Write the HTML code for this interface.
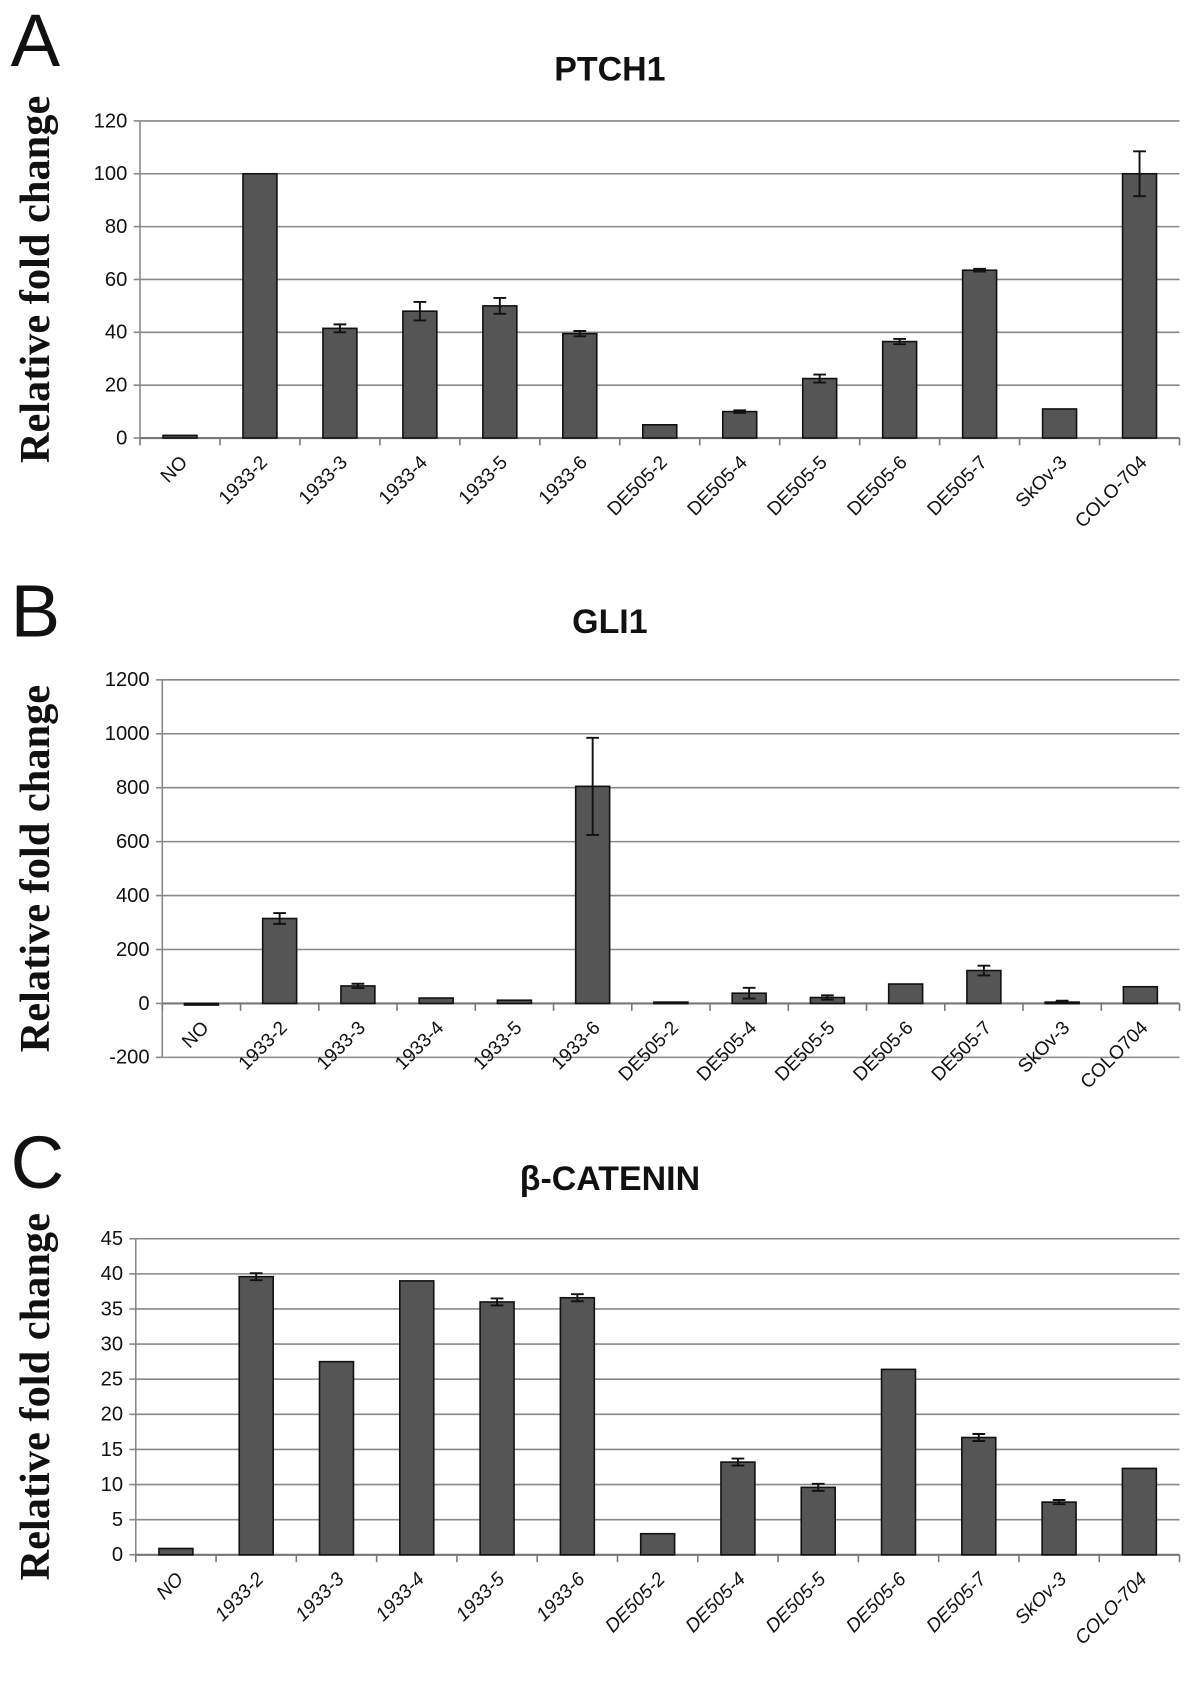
<!DOCTYPE html>
<html><head><meta charset="utf-8"><style>
html,body{margin:0;padding:0;background:#fff}
svg{display:block}
.tick{font-family:"Liberation Sans",sans-serif;font-size:19px;fill:#111}
.cat{font-family:"Liberation Sans",sans-serif;font-size:18px;fill:#111}
.ttl{font-family:"Liberation Sans",sans-serif;font-size:32px;font-weight:bold;fill:#111}
.yt{font-family:"Liberation Serif",serif;font-size:40px;font-weight:bold;fill:#111}
.pl{font-family:"Liberation Sans",sans-serif;font-size:70px;fill:#111}
</style></head><body>
<svg id="fig" width="1188" height="1681" viewBox="0 0 1120 1585" preserveAspectRatio="none" xmlns="http://www.w3.org/2000/svg"></svg>
<script>
const catsA=["NO","1933-2","1933-3","1933-4","1933-5","1933-6","DE505-2","DE505-4","DE505-5","DE505-6","DE505-7","SkOv-3","COLO-704"];
const valsA=[1,100,41.5,48,50,39.5,5,10,22.5,36.5,63.5,11,100];
const errA=[0,0,1.5,3.5,3,1,0,0.5,1.5,1,0.5,0,8.5];
const ticksA=[0,20,40,60,80,100,120];
const catsB=["NO","1933-2","1933-3","1933-4","1933-5","1933-6","DE505-2","DE505-4","DE505-5","DE505-6","DE505-7","SkOv-3","COLO704"];
const valsB=[-3,315,65,20,12,805,5,38,22,72,122,5,62];
const errB=[0,20,8,0,0,180,0,20,8,0,18,5,0];
const ticksB=[-200,0,200,400,600,800,1000,1200];
const catsC=["NO","1933-2","1933-3","1933-4","1933-5","1933-6","DE505-2","DE505-4","DE505-5","DE505-6","DE505-7","SkOv-3","COLO-704"];
const valsC=[0.9,39.6,27.5,39,36,36.6,3,13.2,9.6,26.4,16.7,7.5,12.3];
const errC=[0,0.5,0,0,0.5,0.5,0,0.5,0.5,0,0.5,0.3,0];
const ticksC=[0,5,10,15,20,25,30,35,40,45];

const NS="http://www.w3.org/2000/svg";
const svg=document.getElementById('fig');
function mk(tag,attrs,parent,txt){const e=document.createElementNS(NS,tag);for(const k in attrs)e.setAttribute(k,attrs[k]);if(txt!==undefined)e.textContent=txt;(parent||svg).appendChild(e);return e;}

function panel(o){
  const g=mk('g',{});
  
  
  const ymin=o.ticks[0],ymax=o.ticks[o.ticks.length-1];
  const y=v=>o.bot-(v-ymin)/(ymax-ymin)*(o.bot-o.top);
  const n=o.cats.length,bw=(o.right-o.left)/n;
  const x=i=>o.left+bw*(i+0.5);
  const pl=mk('text',{x:o.plx,y:o.ply,class:'pl'},g,o.letter);
  
  
  const t=mk('text',{x:575,y:o.titleY,class:'ttl','text-anchor':'middle'},g,o.title);
  
  
  const yt=mk('text',{x:0,y:0,class:'yt','text-anchor':'middle',transform:`translate(${o.ytx},${(o.top+o.bot)/2}) rotate(-90)`},g,'Relative fold change');
  
  
  o.ticks.forEach(v=>{
    const gl=mk('line',{x1:o.left,x2:o.right,y1:y(v),y2:y(v),stroke:'#888','stroke-width':1.5},g);
    
    
    mk('line',{x1:o.left-6,x2:o.left,y1:y(v),y2:y(v),stroke:'#888','stroke-width':1.5},g);
    const tl=mk('text',{x:o.left-12,y:y(v)+6,class:'tick','text-anchor':'end'},g,v);
    
    
  });
  mk('line',{x1:o.left,x2:o.left,y1:o.top,y2:o.bot,stroke:'#888','stroke-width':1.5},g);
  const z=y(0);
  mk('line',{x1:o.left,x2:o.right,y1:z,y2:z,stroke:'#777','stroke-width':2},g);
  for(let i=0;i<=n;i++){mk('line',{x1:o.left+bw*i,x2:o.left+bw*i,y1:z,y2:z+7,stroke:'#777','stroke-width':1.5},g);}
  o.cats.forEach((c,i)=>{
    const v=o.vals[i],yy=y(v);
    const r=mk('rect',{x:x(i)-16,y:Math.min(yy,z),width:32,height:Math.max(Math.abs(z-yy),1.5),fill:'#555',stroke:'#111','stroke-width':1.5},g);
    
    
    const e=o.err[i];
    if(e>0){
      const eb=mk('path',{d:`M${x(i)-6},${y(v+e)}H${x(i)+6}M${x(i)},${y(v+e)}V${y(v-e)}M${x(i)-6},${y(v-e)}H${x(i)+6}`,stroke:'#111','stroke-width':1.8,fill:'none'},g);
      
      
    }
    const lx=x(i)+8,ly=z+24;
    const ct=mk('text',{x:lx,y:ly,class:'cat','text-anchor':'end',transform:`rotate(-45 ${lx} ${ly})`,'font-style':o.italic?'italic':'normal'},g,c);
    
    
  });
}
panel({id:'ptch1',letter:'A',title:'PTCH1',cats:catsA,vals:valsA,err:errA,ticks:ticksA,left:132,right:1112,top:114,bot:413,titleY:76,plx:10,ply:62,ytx:46});
panel({id:'gli1',letter:'B',title:'GLI1',cats:catsB,vals:valsB,err:errB,ticks:ticksB,left:153,right:1112,top:641,bot:997,titleY:597,plx:10,ply:600,ytx:46});
panel({id:'beta-catenin',letter:'C',title:'β-CATENIN',cats:catsC,vals:valsC,err:errC,ticks:ticksC,left:128,right:1112,top:1168,bot:1466,titleY:1122,plx:10,ply:1120,ytx:46,italic:true});
</script>
</body></html>
